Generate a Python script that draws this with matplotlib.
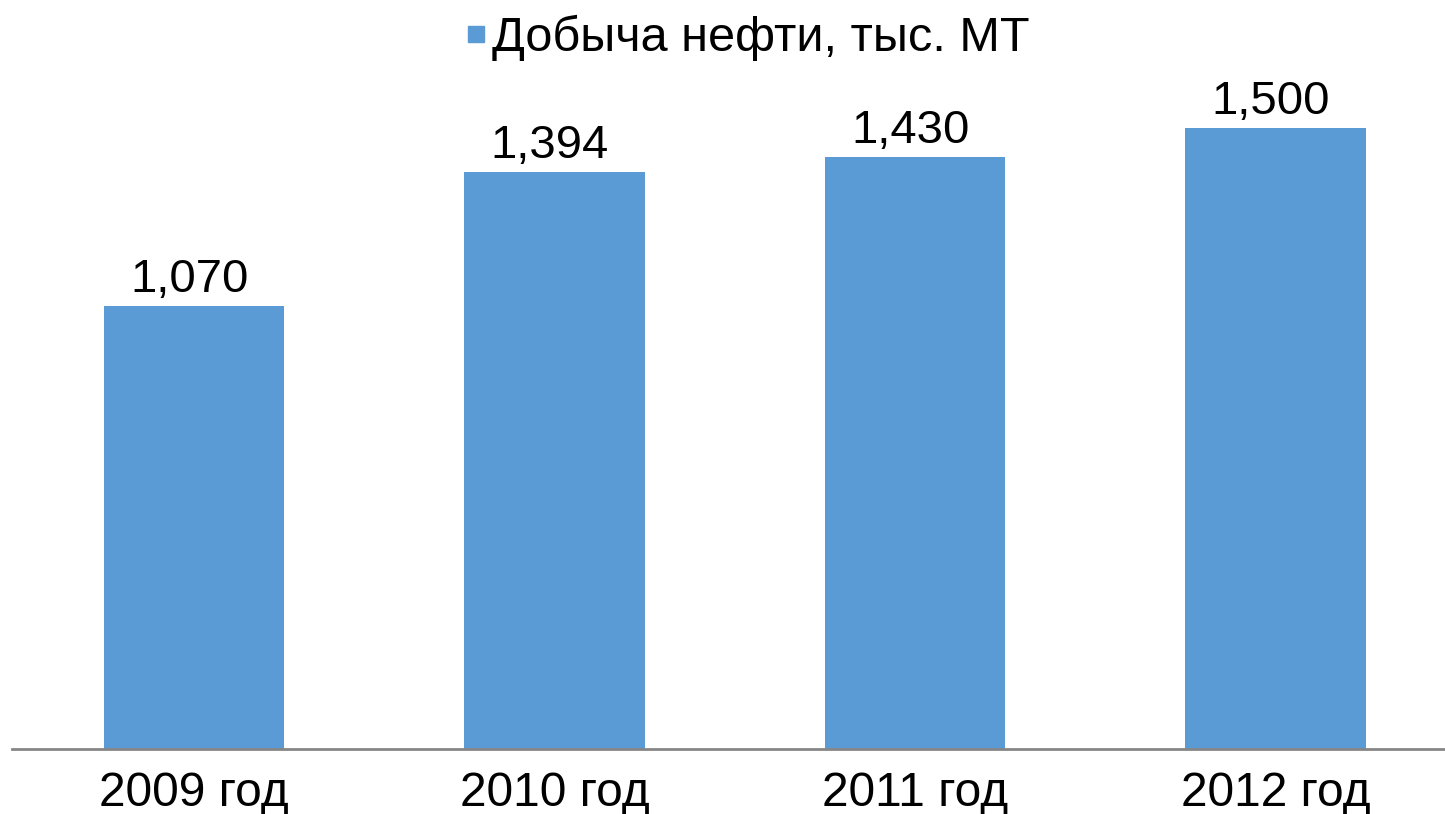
import matplotlib
matplotlib.use('Agg')
import matplotlib.pyplot as plt
from matplotlib.lines import Line2D

plt.rcParams['font.family'] = ['Liberation Sans', 'DejaVu Sans']

years = ['2009 год', '2010 год', '2011 год', '2012 год']
oil = [1070, 1394, 1430, 1500]
series_name = 'Добыча нефти, тыс. МТ'

bar_color = '#5B9BD5'

W, H = 1445, 814
fig = plt.figure(figsize=(W / 100, H / 100), dpi=100)
ax = fig.add_axes([12 / W, (H - 749) / H, (W - 12) / W, (749 - 87) / H])

x = range(len(years))
bars = ax.bar(x, oil, width=0.5, color=bar_color, zorder=2)

for b, v in zip(bars, oil):
    ax.annotate(f'{v:,}', (b.get_x() + b.get_width() / 2, v),
                xytext=(-3.5, 3), textcoords='offset points',
                ha='center', va='bottom', fontsize=34, color='black')

ax.set_xlim(-0.505, 3.47)
ax.set_ylim(0, 1600)
ax.set_xticks(list(x))
ax.set_xticklabels(years, fontsize=34.5)
ax.tick_params(axis='x', length=0, pad=16)
ax.set_yticks([])
for s in ['top', 'right', 'left']:
    ax.spines[s].set_visible(False)
ax.spines['bottom'].set_color('#868686')
ax.spines['bottom'].set_linewidth(2)
ax.spines['bottom'].set_zorder(3)

handle = Line2D([], [], marker='s', color=bar_color, linestyle='none', markersize=12)
fig.legend([handle], [series_name], loc='center', bbox_to_anchor=(0.517, 1 - 38 / H),
           frameon=False, fontsize=35, handlelength=0.45, handletextpad=0.1,
           borderpad=0)

fig.savefig('out.png', dpi=100, facecolor='white')
